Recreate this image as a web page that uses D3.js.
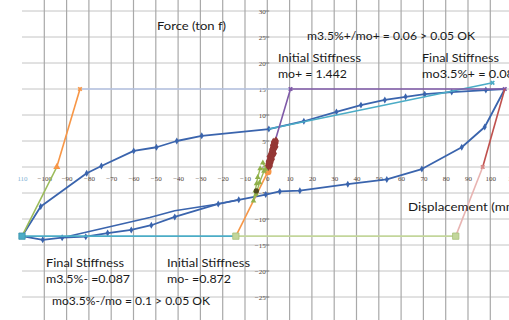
<!DOCTYPE html>
<html><head><meta charset="utf-8">
<script src="https://cdn.jsdelivr.net/npm/d3@7"></script>
<style>
body{margin:0;background:#fff}
svg{display:block}
.lbl{font-family:Lato,"Open Sans",sans-serif;fill:#1a1a1a}
.tick{font-family:"Liberation Serif","DejaVu Serif",serif;font-size:7px;fill:#54463c}
</style>
</head><body>
<svg id="chart" width="509" height="320"></svg>
<script>
// Axis tick values
const xTickValues = d3.range(-110, 111, 10);
const yTickValues = d3.range(-25, 31, 5);
const yGridValues = d3.range(-30, 36, 5);

// Hysteresis loop (displacement mm, force ton f), loading branch
const loopUpper = [[-110,-13.3],[-101.6,-7.6],[-81,-1.2],[-74.4,0.2],[-59.9,3.1],[-49.7,3.8],[-40.6,5.0],[-29.4,6.0],[0.7,7.3],[16.4,8.8],[31,10.6],[42,11.9],[52.7,12.9],[62,13.5],[70.6,14.0],[82.7,14.4],[98,14.8],[106.5,15]];
// unloading / reverse branch
const loopLower = [[106.5,15],[97.5,7.7],[87.2,3.8],[69.3,-0.4],[53.6,-2.4],[36.1,-3.3],[14.6,-4.55],[5.6,-4.7],[-0.7,-5.3],[-12.8,-6.3],[-22,-7.1],[-41.5,-9.6],[-52,-11.2],[-61,-12.1],[-71.6,-12.7],[-81.4,-13.4],[-92,-13.6],[-100.7,-14.0],[-110,-13.3]];
// earlier reverse cycle (no markers)
const loopPrev = [[-92,-13.6],[-52.7,-9.7],[-41.5,-8.4],[-22,-7.1],[-12.8,-6.3]];

// Stiffness construction lines
const negInitShift = [[-110,-13.3],[-94.4,0]];
const posInitShift = [[-94.4,0],[-84,15]];
const yieldPosLeft = [[-84,15],[10.4,15]];
const posInitial = [[-0.6,-0.9],[10.4,15],[106.5,15]];
const posFinal = [[0.7,7.3],[101,16.2]];
const posPeakDrop = [[106.5,15],[96.6,0]];
const posPeakDropLow = [[96.6,0],[84.5,-13.3]];
const yieldNegRight = [[84.5,-13.3],[-14.1,-13.3]];
const yieldNegLeft = [[-14.1,-13.3],[-110,-13.3]];
const negInitial = [[-14.1,-13.3],[0.3,-0.9]];

// Small early cycles near the origin
const smallCycles = [[0.0,0.3],[3.0,4.9],[0.8,1.4],[3.8,5.1],[0.5,0.5],[2.2,4.2],[1.8,0.8],[3.5,4.3],[0.3,1.1],[2.8,3.0],[2.0,2.0],[4.0,3.9],[0.7,2.0],[2.6,4.8],[1.5,0.2],[4.1,4.6],[0.9,1.2],[1.9,3.4],[3.3,2.6],[0.6,0.0],[2.4,1.5],[4.2,5.0],[0.2,0.7]];
const earlyNeg = [[-2.0,0.8],[-0.5,-0.4],[-3.2,-0.3],[-4.3,-2.0],[-4.8,-3.2],[-5.4,-4.6],[-6.2,-6.5],[-5.0,-5.2],[-3.5,-3.0],[-1.5,-0.8],[0.6,0.6]];
const originPoint = [[-4.9,-4.6]];

const svg = d3.select("#chart");
const x = d3.scaleLinear().domain([-110, 110]).range([22, 512.6]);
const y = d3.scaleLinear().domain([-30, 30]).range([323, 11]);
const line = d3.line().x(d => x(d[0])).y(d => y(d[1]));

svg.append("rect").attr("width", 509).attr("height", 320).attr("fill", "#fff");

// grid
svg.append("g").selectAll("line").data(yGridValues).join("line")
  .attr("x1", 22).attr("x2", 509)
  .attr("y1", d => y(d)).attr("y2", d => y(d))
  .attr("stroke", "#c4c4c4").attr("stroke-width", 1);
svg.append("g").selectAll("line").data(xTickValues.filter(d => d > -110)).join("line")
  .attr("x1", d => x(d)).attr("x2", d => x(d))
  .attr("y1", 0).attr("y2", 320)
  .attr("stroke", "#a9a9a9").attr("stroke-width", 1.2);

// axes (tick labels only, axes cross at the origin)
const yAxis = d3.axisLeft(y).tickValues(yTickValues).tickSize(0).tickPadding(0).tickFormat(d3.format("d"));
const gy = svg.append("g").attr("transform", `translate(${x(0) - 1.5},0)`).call(yAxis);
gy.select(".domain").remove();
gy.selectAll("text").attr("class", "tick").attr("font-size", null).attr("font-family", null);
svg.append("g").selectAll("line").data(yTickValues).join("line")
  .attr("x1", x(0) - 2).attr("x2", x(0) + 2)
  .attr("y1", d => y(d)).attr("y2", d => y(d))
  .attr("stroke", "#666").attr("stroke-width", 0.8);

const xAxis = d3.axisBottom(x).tickValues(xTickValues).tickSize(0).tickPadding(9).tickFormat(d3.format("d"));
const gx = svg.append("g").attr("transform", `translate(0,${y(0)})`).call(xAxis);
gx.select(".domain").remove();
gx.selectAll("text").attr("class", "tick").attr("font-size", null).attr("font-family", null);
gx.selectAll(".tick text").filter(d => d === -110).text("110").style("fill", "#7fb3d5");

// series helpers
function path(data, color, w) {
  svg.append("path").datum(data).attr("d", line)
    .attr("fill", "none").attr("stroke", color).attr("stroke-width", w)
    .attr("stroke-linejoin", "round");
}
function marks(data, type, size, fill, stroke) {
  svg.append("g").selectAll("path").data(data).join("path")
    .attr("transform", d => `translate(${x(d[0])},${y(d[1])})`)
    .attr("d", d3.symbol(type, size))
    .attr("fill", fill).attr("stroke", stroke || "none").attr("stroke-width", 0.8);
}
function cross(data, color) {
  svg.append("g").selectAll("path").data(data).join("path")
    .attr("transform", d => `translate(${x(d[0])},${y(d[1])}) rotate(45)`)
    .attr("d", d3.symbol(d3.symbolCross, 14))
    .attr("fill", color);
}

const blue = "#3a64ad";
path(loopPrev, blue, 1.6);
path(loopUpper, blue, 1.8);
path(loopLower, blue, 1.8);
marks(loopUpper.slice(1, -1), d3.symbolDiamond, 14, blue);
marks(loopLower.slice(1, -1), d3.symbolDiamond, 14, blue);

path(posFinal, "#4bacc6", 1.6);
cross([posFinal[1]], "#4bacc6");
path(yieldPosLeft, "#b7c4e4", 1.6);
path(posInitial, "#7f5aa8", 1.6);
cross([posInitial[1], posInitial[2]], "#7f5aa8");
path(posPeakDrop, "#c0504d", 1.6);
path(posPeakDropLow, "#e8b4b2", 1.6);
cross([posPeakDrop[1]], "#d98a88");
path(yieldNegRight, "#c3d69b", 1.6);
path(yieldNegLeft, "#4bacc6", 1.6);
path(negInitShift, "#9bbb59", 1.6);
path(posInitShift, "#f79646", 1.6);
marks([posInitShift[0]], d3.symbolTriangle, 22, "#f79646");
cross([posInitShift[1]], "#f79646");

path(negInitial, "#f79646", 1.6);
marks([negInitial[1]], d3.symbolCircle, 40, "#f79646");
path(earlyNeg, "#9bbb59", 1.4);
marks(earlyNeg, d3.symbolTriangle, 14, "#8fb04a");
path(smallCycles, "#953735", 2.8);
marks(smallCycles, d3.symbolDiamond, 18, "#953735");
marks(originPoint, d3.symbolCircle, 22, "#4f4a20");

marks([yieldNegLeft[1]], d3.symbolSquare, 40, "#4bacc6", "#3a93ab");
marks([yieldNegRight[1]], d3.symbolSquare, 40, "#c3d69b", "#a9c07a");
marks([yieldNegRight[0]], d3.symbolSquare, 40, "#c3d69b", "#a9c07a");

// labels
function label(txt, px, py, size, len) {
  const t = svg.append("text").attr("class", "lbl").attr("x", px).attr("y", py)
    .attr("font-size", size).text(txt);
  if (len) t.attr("textLength", len).attr("lengthAdjust", "spacingAndGlyphs");
}
label("Force (ton f)", 157, 30, 12, 69);
label("m3.5%+/mo+ = 0.06 > 0.05 OK", 307, 40, 12, 168);
label("Initial Stiffness", 278, 62, 12, 83);
label("mo+ = 1.442", 278, 78, 12, 69);
label("Final Stiffness", 422, 62, 12, 77);
label("mo3.5%+ = 0.08", 422, 78, 12, 92);
label("Displacement (mm)", 408, 211, 12, 112);
label("Final Stiffness", 46, 267, 12, 78);
label("m3.5%- =0.087", 46, 283, 12, 84);
label("mo3.5%-/mo = 0.1 > 0.05   OK", 52, 305, 12, 158);
label("Initial Stiffness", 167, 267, 12, 83);
label("mo- =0.872", 167, 283, 12, 64);
</script>
</body></html>
